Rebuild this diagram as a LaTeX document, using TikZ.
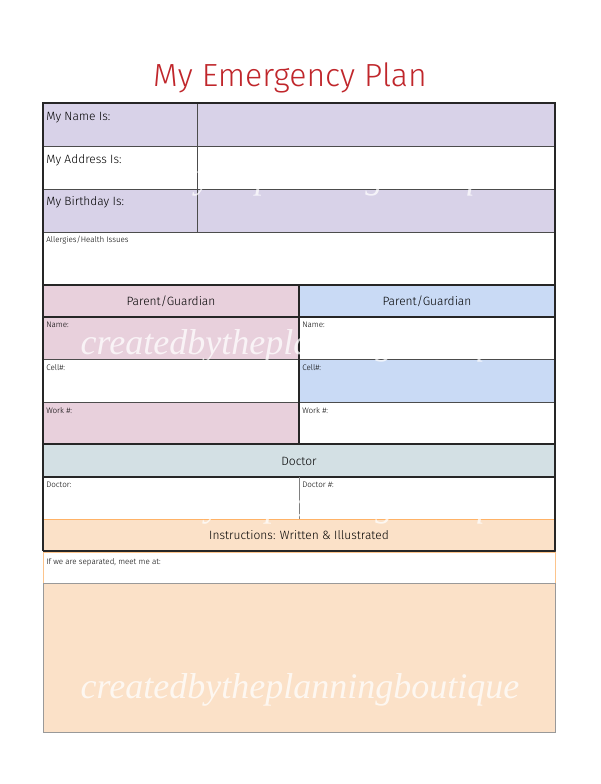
\documentclass[tikz,border=0pt]{standalone}
\usepackage{fontspec}
\setmainfont{Fira Sans Light}
\newfontfamily\wm{Liberation Serif}
\begin{document}
\begin{tikzpicture}[x=0.75pt,y=-0.75pt]
\definecolor{purp}{HTML}{D8D2E8}\definecolor{pnk}{HTML}{E8D0DC}
\definecolor{blu}{HTML}{C9DAF5}\definecolor{doc}{HTML}{D3E0E4}
\definecolor{pch}{HTML}{FBE1C8}\definecolor{ttl}{HTML}{C0262B}
\tikzset{cell/.style={draw=black!70,line width=0.6pt},
 frame/.style={draw=black!85,line width=1pt},
 lab/.style={anchor=north west,inner sep=0pt,font=\fontsize{9}{10}\selectfont},
 sml/.style={anchor=north west,inner sep=0pt,font=\fontsize{6}{7}\selectfont},
 hdr/.style={inner sep=0pt,font=\fontsize{9}{10}\selectfont},
 wmk/.style={white,opacity=0.75,font=\wm\itshape\fontsize{27}{30}\selectfont}}
\useasboundingbox (0,0) rectangle (600,784);
\fill[white] (0,0) rectangle (600,784);
\node[ttl,font=\fontsize{24}{28}\selectfont] (title) at (290,78) {My Emergency Plan};
% top rows
\filldraw[cell,fill=purp] (43,103) rectangle (555,146);
\filldraw[cell,fill=white] (43,146) rectangle (555,189);
\filldraw[cell,fill=purp] (43,189) rectangle (555,232);
\draw[cell] (197,103) -- (197,232);
\filldraw[cell,fill=white] (43,232) rectangle (555,285);
\node[lab] (n1) at (46,112) {My Name Is:};
\node[lab] (n2) at (46,154) {My Address Is:};
\node[lab] (n3) at (46,196) {My Birthday Is:};
\node[sml] (n4) at (46,236) {Allergies/Health Issues};
% parents
\filldraw[cell,fill=pnk] (43,285) rectangle (299,317);
\filldraw[cell,fill=blu] (299,285) rectangle (555,317);
\filldraw[cell,fill=pnk] (43,317) rectangle (299,359);
\filldraw[cell,fill=white] (299,317) rectangle (555,359);
\filldraw[cell,fill=white] (43,359) rectangle (299,402);
\filldraw[cell,fill=blu] (299,359) rectangle (555,402);
\filldraw[cell,fill=pnk] (43,402) rectangle (299,444);
\filldraw[cell,fill=white] (299,402) rectangle (555,444);
\draw[frame] (43,285) rectangle (555,444) (299,285) -- (299,444) (43,317) -- (555,317);
\node[hdr] (p1) at (171,301) {Parent/Guardian};
\node[hdr] (p2) at (427,301) {Parent/Guardian};
\node[sml] (a1) at (46,322) {Name:};
\node[sml] (a2) at (302,322) {Name:};
\node[sml] (b1) at (46,364) {Cell\#:};
\node[sml] (b2) at (302,364) {Cell\#:};
\node[sml] (c1) at (46,407) {Work \#:};
\node[sml] (c2) at (302,407) {Work \#:};
% doctor
\filldraw[cell,fill=doc] (43,444) rectangle (555,477);
\filldraw[cell,fill=white] (43,477) rectangle (555,519);
\draw[frame] (43,444) rectangle (555,477);
\draw[cell,draw=black!50] (299,477) -- (299,519);
\node[hdr] (d0) at (299,461) {Doctor};
\node[sml] (d1) at (46,482) {Doctor:};
\node[sml] (d2) at (302,482) {Doctor \#:};
% instructions
\filldraw[cell,fill=pch] (43,519) rectangle (555,551);
\draw[orange!60,line width=0.6pt] (43,519) -- (555,519);
\draw[frame] (43,551) -- (555,551);
\node[hdr] (i0) at (299,535) {Instructions: Written \& Illustrated};
\filldraw[draw=pch!70!orange,line width=0.6pt,fill=white] (43,552) rectangle (555,583);
\node[sml] (i1) at (46,558) {If we are separated, meet me at:};
\filldraw[draw=black!40,line width=0.6pt,fill=pch] (43,583) rectangle (555,732);
\draw[frame] (43,103) rectangle (555,285);
\draw[frame] (43,285) -- (43,551) (555,285) -- (555,551);
% watermarks
\node[wmk] (w1) at (290,180) {createdbytheplanningboutique};
\node[wmk] (w2) at (300,346) {createdbytheplanningboutique};
\node[wmk] (w3) at (300,508) {createdbytheplanningboutique};
\node[wmk] (w4) at (300,690) {createdbytheplanningboutique};
\end{tikzpicture}
\end{document}
